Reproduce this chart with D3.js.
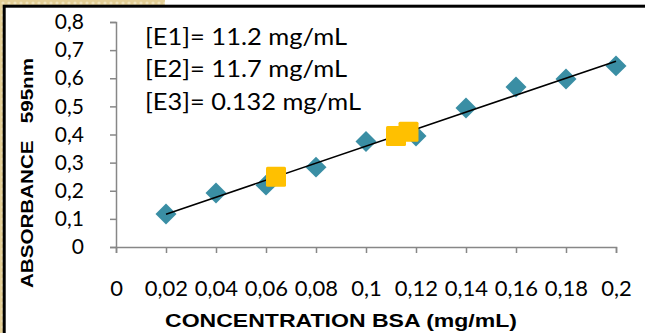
<!DOCTYPE html>
<html>
<head>
<meta charset="utf-8">
<script src="https://cdn.jsdelivr.net/npm/d3@7/dist/d3.min.js"></script>
<style>
  html, body { margin: 0; padding: 0; background: #fff; }
  svg { display: block; }
</style>
</head>
<body>
<svg id="chart" width="645" height="333"></svg>
<script>
// standard curve points
const concentration = [0.02, 0.04, 0.06, 0.08, 0.1, 0.12, 0.14, 0.16, 0.18, 0.2];
const absorbance = [0.117, 0.192, 0.22, 0.284, 0.375, 0.395, 0.494, 0.569, 0.597, 0.644];

// unknown samples placed on the curve
const sampleConc = [0.064, 0.112, 0.117];
const sampleAbs = [0.25, 0.395, 0.41];

const xTicks = [0, 0.02, 0.04, 0.06, 0.08, 0.1, 0.12, 0.14, 0.16, 0.18, 0.2];
const yTicks = [0, 0.1, 0.2, 0.3, 0.4, 0.5, 0.6, 0.7, 0.8];
const notes = ['[E1]= 11.2 mg/mL', '[E2]= 11.7 mg/mL', '[E3]= 0.132 mg/mL'];

const svg = d3.select('#chart');
const W = 645, H = 333;
const axisColor = '#878787';
const tickFont = 'Lato, "Open Sans", sans-serif';

// beige page texture behind the frame
const defs = svg.append('defs');
const pat = defs.append('pattern').attr('id', 'paper')
  .attr('width', 6).attr('height', 6).attr('patternUnits', 'userSpaceOnUse');
pat.append('rect').attr('width', 6).attr('height', 6).attr('fill', '#e4cf96');
pat.append('circle').attr('cx', 3).attr('cy', 3).attr('r', 1.6).attr('fill', '#f1e4bd');

svg.append('rect').attr('x', 0).attr('y', 0).attr('width', 4).attr('height', H).attr('fill', 'url(#paper)');
svg.append('rect').attr('x', 0).attr('y', 0).attr('width', 165).attr('height', 6).attr('fill', 'url(#paper)');
svg.append('rect').attr('x', 4.2).attr('y', 6.2).attr('width', W + 10).attr('height', H + 10)
  .attr('fill', '#fff').attr('stroke', '#000').attr('stroke-width', 3);

const x = d3.scaleLinear().domain([0, 0.2]).range([116, 616]);
const y = d3.scaleLinear().domain([0, 0.8]).range([247, 22]);

const fmt = d => String(+d.toFixed(2)).replace('.', ',');

// y axis
const yAxis = svg.append('g')
  .attr('transform', `translate(${x(0)},0)`)
  .call(d3.axisLeft(y).tickValues(yTicks).tickSize(6).tickPadding(26).tickFormat(fmt));
yAxis.select('.domain').attr('stroke', axisColor).attr('stroke-width', 1.5);
yAxis.selectAll('.tick line').attr('stroke', axisColor).attr('stroke-width', 1.5);
yAxis.selectAll('.tick text').attr('fill', '#000').attr('font-family', tickFont).attr('font-size', 21);

// x axis
const xAxis = svg.append('g')
  .attr('transform', `translate(0,${y(0)})`)
  .call(d3.axisBottom(x).tickValues(xTicks).tickSize(6).tickPadding(27).tickFormat(fmt));
xAxis.select('.domain').attr('stroke', axisColor).attr('stroke-width', 1.5);
xAxis.selectAll('.tick line').attr('stroke', axisColor).attr('stroke-width', 1.5);
xAxis.selectAll('.tick text').attr('fill', '#000').attr('font-family', tickFont).attr('font-size', 22);

// diamonds
svg.append('g').selectAll('path')
  .data(concentration)
  .join('path')
  .attr('d', d3.symbol(d3.symbolSquare, 220)())
  .attr('transform', (d, i) => `translate(${x(d)},${y(absorbance[i])}) rotate(45)`)
  .attr('fill', '#3a8ea4');

// linear trendline by least squares
const mx = d3.mean(concentration), my = d3.mean(absorbance);
const slope = d3.sum(concentration, (d, i) => (d - mx) * (absorbance[i] - my)) /
  d3.sum(concentration, d => (d - mx) * (d - mx));
const icpt = my - slope * mx;
const ends = d3.extent(concentration);
svg.append('line')
  .attr('x1', x(ends[0])).attr('y1', y(slope * ends[0] + icpt))
  .attr('x2', x(ends[1])).attr('y2', y(slope * ends[1] + icpt))
  .attr('stroke', '#000').attr('stroke-width', 1.6);

// samples
svg.append('g').selectAll('rect')
  .data(sampleConc)
  .join('rect')
  .attr('x', d => x(d) - 10)
  .attr('y', (d, i) => y(sampleAbs[i]) - 10)
  .attr('width', 20).attr('height', 20).attr('rx', 1.5)
  .attr('fill', '#ffc000');

// annotations, stretched to the widths of the original humanist font
const noteWidth = [202, 202, 216];
svg.append('g').selectAll('text')
  .data(notes)
  .join('text')
  .attr('x', 145)
  .attr('y', (d, i) => [45, 77, 110][i])
  .attr('font-family', tickFont)
  .attr('font-size', 23)
  .attr('textLength', (d, i) => noteWidth[i]).attr('lengthAdjust', 'spacingAndGlyphs')
  .attr('fill', '#000')
  .text(d => d);

// axis titles
svg.append('text')
  .attr('transform', 'translate(33,173) rotate(-90)')
  .attr('text-anchor', 'middle')
  .attr('font-family', '"Liberation Sans", Arial, sans-serif')
  .attr('font-weight', 'bold').attr('font-size', 17)
  .attr('textLength', 230).attr('lengthAdjust', 'spacingAndGlyphs')
  .text('ABSORBANCE\u00a0\u00a0\u00a0595nm');

svg.append('text')
  .attr('x', 341).attr('y', 327)
  .attr('text-anchor', 'middle')
  .attr('font-family', '"Liberation Sans", Arial, sans-serif')
  .attr('font-weight', 'bold').attr('font-size', 18)
  .attr('textLength', 352).attr('lengthAdjust', 'spacingAndGlyphs')
  .text('CONCENTRATION BSA (mg/mL)');
</script>
</body>
</html>
